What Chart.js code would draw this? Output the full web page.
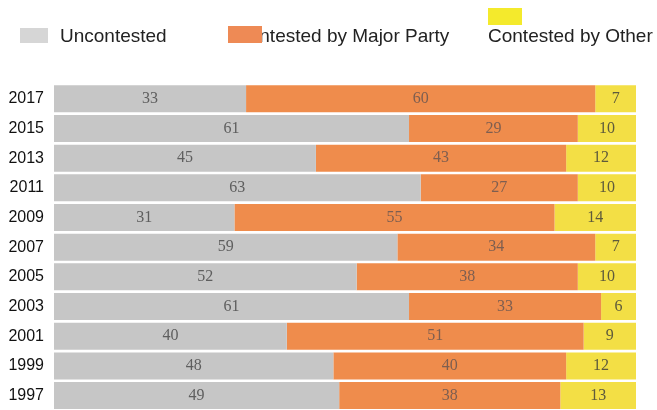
<!DOCTYPE html>
<html>
<head>
<meta charset="utf-8">
<script src="https://cdn.jsdelivr.net/npm/chart.js@4"></script>
<style>
  html, body { margin: 0; padding: 0; background: #ffffff; overflow: hidden; }
  #wrap { position: relative; width: 657px; height: 410px; overflow: hidden; }
  canvas { position: absolute; left: 0; top: 0; }
  .lg { position: absolute; font-family: "Liberation Sans", Arial, sans-serif; font-size: 19px; color: #222; white-space: nowrap; line-height: 19px; }
  .box { position: absolute; }
</style>
</head>
<body>
<div id="wrap">
  <canvas id="c" width="657" height="430"></canvas>
  <div class="box" style="left:20px;top:28px;width:28px;height:15px;background:#d6d6d6;"></div>
  <div class="lg" style="left:60px;top:26px;">Uncontested</div>
  <div class="lg" style="left:235px;top:26px;">Contested by Major Party</div>
  <div class="box" style="left:228px;top:26px;width:34px;height:17px;background:#ee8a55;"></div>
  <div class="box" style="left:488px;top:8px;width:34px;height:17px;background:#f4ea2c;"></div>
  <div class="lg" style="left:488px;top:26px;">Contested by Other</div>
</div>
<script>
const years = ["2017","2015","2013","2011","2009","2007","2005","2003","2001","1999","1997"];
const uncontested = [33, 61, 45, 63, 31, 59, 52, 61, 40, 48, 49];
const majorParty  = [60, 29, 43, 27, 55, 34, 38, 33, 51, 40, 38];
const otherParty  = [7, 10, 12, 10, 14, 7, 10, 6, 9, 12, 13];
const seriesNames = ["Uncontested", "Contested by Major Party", "Contested by Other"];

const valueLabels = {
  id: 'valueLabels',
  afterDatasetsDraw(chart) {
    const ctx = chart.ctx;
    ctx.save();
    ctx.font = '16px "Liberation Serif", "Times New Roman", serif';
    ctx.textAlign = 'center';
    ctx.textBaseline = 'middle';
    chart.data.datasets.forEach((ds, i) => {
      const meta = chart.getDatasetMeta(i);
      ctx.fillStyle = ds.labelColor;
      meta.data.forEach((el, j) => {
        const p = el.getCenterPoint();
        ctx.fillText(String(ds.data[j]), p.x, p.y);
      });
    });
    ctx.restore();
  }
};

new Chart(document.getElementById('c'), {
  type: 'bar',
  data: {
    labels: years,
    datasets: [
      { label: seriesNames[0], data: uncontested, backgroundColor: '#c6c6c6', labelColor: '#5e5e5e' },
      { label: seriesNames[1], data: majorParty, backgroundColor: '#ef8c4c', labelColor: '#7d5e50' },
      { label: seriesNames[2], data: otherParty, backgroundColor: '#f3df45', labelColor: '#5e5a3c' }
    ]
  },
  options: {
    indexAxis: 'y',
    responsive: false,
    animation: false,
    events: [],
    layout: { padding: { top: 84, right: 21, bottom: 0, left: 0 } },
    datasets: { bar: { categoryPercentage: 1.0, barPercentage: 0.91, borderWidth: 0 } },
    plugins: { legend: { display: false }, tooltip: { enabled: false }, title: { display: false } },
    scales: {
      x: { stacked: true, min: 0, max: 100, display: false },
      y: {
        stacked: true,
        grid: { display: false, drawTicks: false },
        border: { display: false },
        afterFit(scale) { scale.width = 54; },
        ticks: {
          padding: 10,
          color: '#111',
          font: { family: '"Liberation Sans", Arial, sans-serif', size: 16 }
        }
      }
    }
  },
  plugins: [valueLabels]
});
</script>
</body>
</html>
